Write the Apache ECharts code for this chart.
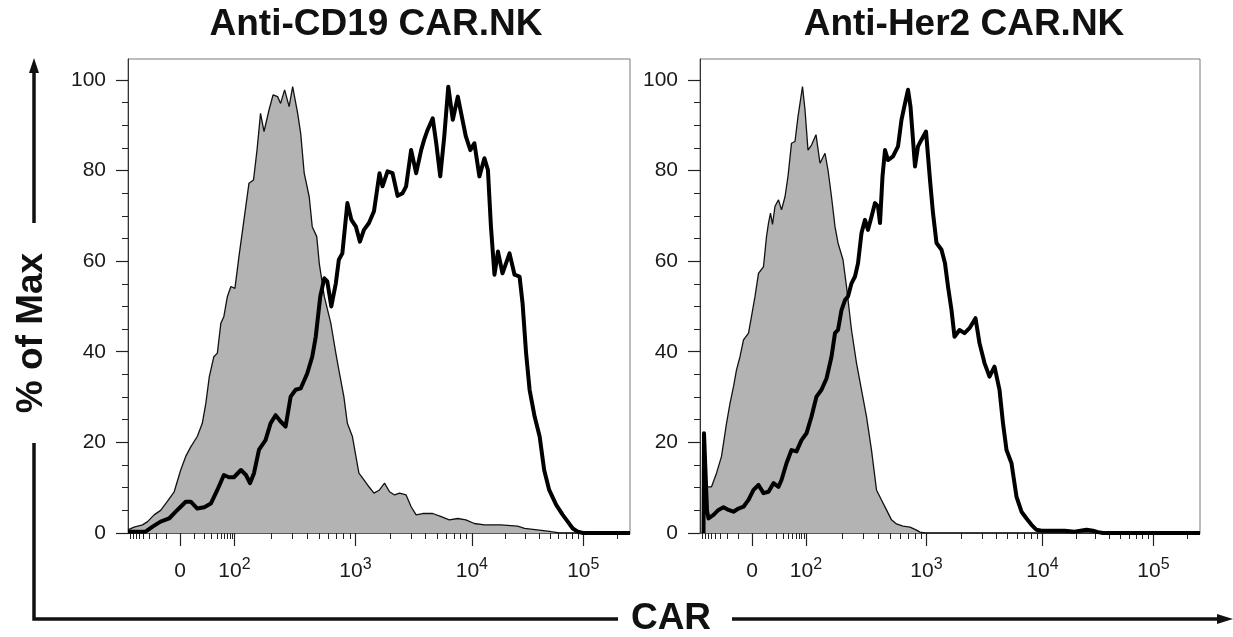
<!DOCTYPE html>
<html>
<head>
<meta charset="utf-8">
<title>CAR expression</title>
<script src="https://cdn.jsdelivr.net/npm/echarts@6.0.0/dist/echarts.min.js"></script>
<style>
  html, body { margin: 0; padding: 0; background: #fff; }
  #chart { width: 1233px; height: 637px; }
</style>
</head>
<body>
<div id="chart"></div>
<script>
// x is in display channels (0..1000 across each plot box), y is % of max
const panelTitles = ['Anti-CD19 CAR.NK', 'Anti-Her2 CAR.NK']

// major ticks of the biexponential axis and where they sit in channels
const tickValues = [0, 100, 1000, 10000, 100000]
const tickChannels = [104, 212, 453, 685, 907]
const yTicks = [0, 20, 40, 60, 80, 100]

// Anti-CD19 panel
const cd19CtrlCh = [0, 12, 29, 39, 52, 65, 78, 92, 105, 115, 125, 138, 148, 155, 162, 171, 178, 185, 191, 198, 205, 213, 221, 231, 241, 250, 257, 264, 271, 281, 289, 298, 304, 312, 321, 328, 338, 344, 351, 361, 367, 376, 381, 391, 404, 414, 420, 430, 437, 447, 454, 460, 470, 480, 490, 501, 511, 521, 531, 541, 554, 564, 574, 587, 607, 624, 640, 657, 673, 690, 710, 743, 776, 790, 836, 849, 860, 1000]
const cd19CtrlPct = [0.7, 1.3, 1.8, 2.5, 4, 5, 6.9, 9.1, 13.9, 16.9, 19, 21.3, 24.2, 28.6, 34.5, 38.9, 39.7, 46.3, 47.8, 52.2, 54.4, 54, 61, 69.1, 77.2, 77.9, 84.5, 92.6, 88.6, 93.4, 96.7, 96.3, 94.8, 97.8, 94.1, 98.5, 92.6, 88.2, 79.4, 74.2, 67.6, 65.4, 59.5, 52.2, 46.3, 39.7, 36, 30.1, 24.2, 21.3, 16.9, 13.2, 11.7, 10.2, 8.8, 9.5, 11, 9.1, 8.4, 8.8, 8.4, 5.8, 4, 4.3, 4.3, 3.6, 2.9, 3.2, 2.9, 2.1, 1.8, 1.8, 1.5, 1, 0.4, 0.2, 0, 0]
const cd19CarCh = [0, 19, 35, 49, 65, 82, 95, 105, 115, 125, 138, 152, 165, 178, 191, 201, 211, 225, 235, 243, 251, 261, 274, 284, 294, 304, 314, 324, 334, 344, 357, 367, 374, 383, 391, 397, 405, 414, 420, 427, 437, 445, 454, 462, 470, 480, 490, 501, 507, 517, 527, 537, 547, 554, 564, 574, 584, 590, 597, 607, 614, 622, 630, 638, 647, 657, 665, 673, 682, 690, 700, 710, 717, 723, 730, 737, 746, 760, 770, 780, 786, 793, 800, 810, 820, 829, 839, 853, 866, 876, 886, 896, 906, 1000]
const cd19CarPct = [0.3, 0.3, 0.3, 1.4, 2.5, 3.2, 4.7, 5.8, 6.9, 6.9, 5.4, 5.7, 6.5, 9.5, 12.8, 12.3, 12.3, 13.9, 12.8, 11, 13.2, 18.4, 20.5, 24.2, 26, 24.6, 23.5, 30.1, 31.6, 31.9, 35.2, 38.9, 43.3, 52.2, 56.2, 55.5, 50, 55.1, 60.3, 61.7, 72.8, 69.1, 67.6, 64.3, 66.9, 68.4, 71, 79.4, 76.5, 79.8, 79.4, 74.4, 75, 76.5, 84.5, 79.4, 84.5, 86.8, 89, 91.5, 86, 78.7, 87.5, 98.5, 91.2, 96.3, 91.9, 87.5, 84.5, 86, 78.7, 82.7, 80.1, 67.6, 57, 62.1, 57.3, 61.7, 57, 56.6, 50.7, 39.7, 31.6, 25.7, 21.3, 13.9, 9.5, 6.2, 4, 2.5, 1, 0.3, 0, 0]

// Anti-Her2 panel
const her2CtrlCh = [8, 13, 23, 33, 43, 53, 60, 67, 73, 80, 87, 97, 103, 110, 117, 127, 133, 137, 141, 145, 150, 157, 163, 170, 176, 183, 190, 196, 205, 210, 216, 223, 232, 240, 250, 256, 263, 270, 276, 286, 293, 303, 313, 323, 333, 343, 353, 363, 373, 383, 393, 406, 420, 432, 440, 450, 1000]
const her2CtrlPct = [10.2, 10.2, 10.2, 13.2, 16.9, 24.2, 28.6, 32.3, 36, 38.9, 42.6, 44.1, 47.8, 52.2, 57.3, 58.8, 65.4, 68.4, 70.6, 68.1, 72.1, 73.5, 71.3, 74.2, 78.7, 86, 86.4, 91.9, 98.5, 93.4, 84.5, 85.6, 87.9, 81.6, 83.8, 80.1, 74.2, 67.6, 64, 60.3, 54.4, 44.8, 37.5, 31.6, 25.7, 18.3, 9.5, 7.3, 5.1, 2.9, 2, 1.5, 1.3, 0.7, 0.2, 0, 0]
const her2CarCh = [7, 8, 14, 17, 27, 37, 47, 57, 67, 77, 87, 97, 107, 117, 127, 137, 147, 157, 163, 173, 183, 193, 203, 213, 223, 233, 243, 253, 263, 270, 276, 283, 290, 296, 303, 310, 316, 323, 330, 336, 343, 350, 356, 360, 365, 370, 376, 386, 396, 403, 410, 416, 421, 430, 436, 443, 452, 460, 466, 473, 483, 490, 496, 503, 509, 519, 529, 539, 551, 559, 569, 579, 589, 599, 606, 613, 623, 633, 643, 653, 663, 673, 683, 729, 749, 773, 786, 796, 806, 1000]
const her2CarPct = [0, 22, 5, 3.2, 4, 5.1, 5.7, 5.1, 4.7, 5.4, 5.8, 7.3, 9.5, 10.6, 8.8, 9.1, 11, 10.2, 11.7, 15.4, 18.3, 18, 20.5, 22, 25.7, 30.1, 31.6, 34.1, 38.9, 44.1, 44.8, 49.2, 51.4, 52.2, 55.1, 56.6, 59.5, 66.2, 69.1, 66.9, 69.8, 72.8, 72.1, 68.4, 78.7, 84.5, 82.3, 83.1, 85.3, 91.2, 94.8, 97.8, 94.1, 80.9, 85.3, 86.8, 88.6, 77.9, 70.6, 64, 62.5, 59.5, 54.4, 49.2, 43.3, 44.8, 44.1, 45.2, 47.4, 41.9, 37.5, 34.5, 36.7, 31.6, 24.2, 18.3, 15.4, 8, 4.7, 3.2, 1.8, 0.7, 0.5, 0.5, 0.3, 0.7, 0.5, 0.2, 0, 0]

const FONT = '"Liberation Sans", Arial, sans-serif'

function zip (xs, ys) {
    return xs.map((x, i) => [x, ys[i]])
}

// biexponential-ish placement, only used for the minor tick marks
function toChannel (v) {
    const a = Math.abs(v)
    if (a <= 100) {
        const s = v < 0 ? -1 : 1
        return tickChannels[0] + s * (tickChannels[1] - tickChannels[0]) * Math.asinh(a * 0.08) / Math.asinh(8)
    }
    const n = Math.floor(Math.log10(a))
    const base = tickChannels[n - 1]
    const width = n < 5 ? tickChannels[n] - base : 222
    return base + width * (Math.log10(a) - n)
}

const minorX = []
for (let d = 10; d < 100; d += 10) {
    minorX.push(toChannel(-d), toChannel(d))
}
for (let n = 2; n <= 5; n++) {
    for (let k = 2; k <= 9; k++) minorX.push(toChannel(k * Math.pow(10, n)))
}
const minorXTicks = minorX.filter(c => c > 2 && c < 998)
const minorYTicks = []
for (let v = 5; v < 104; v += 5) {
    if (v % 20 !== 0) minorYTicks.push(v)
}

function xLabel (ch) {
    const idx = tickChannels.indexOf(ch)
    if (idx <= 0) return '{b|0}'
    return '{b|10}{s|' + Math.round(Math.log10(tickValues[idx])) + '}'
}

const grids = [
    { left: 128, right: 603, top: 59, bottom: 104 },
    { left: 700, right: 33, top: 59, bottom: 104 }
]

const xAxes = []
const yAxes = []
grids.forEach((g, i) => {
    g.show = true
    g.borderColor = '#7a7a7a'
    g.borderWidth = 1
    xAxes.push({
        type: 'value', gridIndex: i, min: 0, max: 1000, position: 'bottom',
        axisLine: { show: true, onZero: false, lineStyle: { color: '#555', width: 1 } },
        axisTick: { show: true, customValues: tickChannels, length: 13, lineStyle: { color: '#222', width: 1.2 } },
        axisLabel: {
            customValues: tickChannels,
            margin: 24,
            formatter: xLabel,
            rich: {
                b: { fontSize: 21, fontFamily: FONT, color: '#1a1a1a', lineHeight: 28 },
                s: { fontSize: 16, fontFamily: FONT, color: '#1a1a1a', lineHeight: 14, verticalAlign: 'top' }
            }
        },
        splitLine: { show: false }
    })
    xAxes.push({
        type: 'value', gridIndex: i, min: 0, max: 1000, position: 'bottom',
        axisLine: { show: false, onZero: false },
        axisTick: { show: true, customValues: minorXTicks, length: 6, lineStyle: { color: '#222', width: 1 } },
        axisLabel: { show: false },
        splitLine: { show: false }
    })
    yAxes.push({
        type: 'value', gridIndex: i, min: 0, max: 104.6, position: 'left',
        axisLine: { show: true, onZero: false, lineStyle: { color: '#333', width: 1 } },
        axisTick: { show: true, customValues: yTicks, length: 12, lineStyle: { color: '#222', width: 1.2 } },
        axisLabel: { customValues: yTicks, margin: 22, fontSize: 21, fontFamily: FONT, color: '#1a1a1a' },
        splitLine: { show: false }
    })
    yAxes.push({
        type: 'value', gridIndex: i, min: 0, max: 104.6, position: 'left',
        axisLine: { show: false, onZero: false },
        axisTick: { show: true, customValues: minorYTicks, length: 6, lineStyle: { color: '#222', width: 1 } },
        axisLabel: { show: false },
        splitLine: { show: false }
    })
})

function ctrlSeries (i, ch, pct) {
    return {
        type: 'line', xAxisIndex: 2 * i, yAxisIndex: 2 * i, data: zip(ch, pct),
        symbol: 'none', silent: true, z: 2,
        lineStyle: { color: '#111', width: 1.3 },
        areaStyle: { color: '#b3b3b3', opacity: 1 }
    }
}
function carSeries (i, ch, pct) {
    return {
        type: 'line', xAxisIndex: 2 * i, yAxisIndex: 2 * i, data: zip(ch, pct),
        symbol: 'none', silent: true, z: 3,
        lineStyle: { color: '#000', width: 4, join: 'round' }
    }
}

const boldText = { font: 'bold 37px ' + FONT, fill: '#111', textAlign: 'center', textVerticalAlign: 'middle' }
const stroke = { stroke: '#111', lineWidth: 3.5 }

const chart = echarts.init(document.getElementById('chart'), null, { renderer: 'canvas' })
chart.setOption({
    animation: false,
    backgroundColor: '#fff',
    grid: grids,
    xAxis: xAxes,
    yAxis: yAxes,
    series: [
        ctrlSeries(0, cd19CtrlCh, cd19CtrlPct),
        carSeries(0, cd19CarCh, cd19CarPct),
        ctrlSeries(1, her2CtrlCh, her2CtrlPct),
        carSeries(1, her2CarCh, her2CarPct)
    ],
    graphic: [
        { type: 'text', x: 376, y: 25, style: Object.assign({ text: panelTitles[0] }, boldText) },
        { type: 'text', x: 964, y: 25, style: Object.assign({ text: panelTitles[1] }, boldText) },
        { type: 'text', x: 32, y: 333, rotation: Math.PI / 2, style: Object.assign({ text: '% of Max' }, boldText) },
        { type: 'text', x: 671, y: 619, style: Object.assign({ text: 'CAR' }, boldText) },
        { type: 'line', shape: { x1: 34, y1: 223, x2: 34, y2: 70 }, style: stroke },
        { type: 'polygon', shape: { points: [[34, 58], [29, 73], [39, 73]] }, style: { fill: '#111' } },
        { type: 'polyline', shape: { points: [[34, 443], [34, 619], [618, 619]] }, style: Object.assign({ fill: null }, stroke) },
        { type: 'line', shape: { x1: 732, y1: 619, x2: 1220, y2: 619 }, style: stroke },
        { type: 'polygon', shape: { points: [[1233, 619], [1217, 614], [1217, 624]] }, style: { fill: '#111' } }
    ]
})
</script>
</body>
</html>
